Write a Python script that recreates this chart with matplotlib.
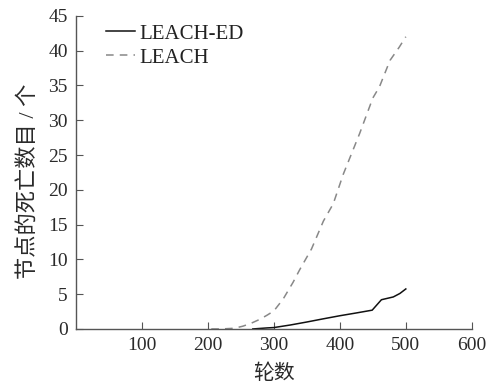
import matplotlib
matplotlib.use("Agg")
import matplotlib.pyplot as plt

plt.rcParams['font.family'] = ['Liberation Serif', 'Noto Sans CJK SC']

leach_ed_x = [268, 290, 300, 325, 350, 374, 400, 425, 449, 463, 481, 491, 500]
leach_ed_y = [0, 0.15, 0.2, 0.57, 1.0, 1.44, 1.9, 2.3, 2.7, 4.2, 4.6, 5.1, 5.75]

leach_x = [205, 220, 240, 253, 265, 279, 290, 300, 314, 329, 339, 357, 375, 390, 405, 430, 450, 460, 476, 490, 500]
leach_y = [0, 0, 0.1, 0.4, 0.8, 1.4, 2.0, 2.6, 4.3, 6.7, 8.5, 11.5, 15.5, 18, 22.2, 28.1, 33.2, 34.8, 38.6, 40.5, 42]

xticks = [100, 200, 300, 400, 500, 600]
yticks = [0, 5, 10, 15, 20, 25, 30, 35, 40, 45]

fig = plt.figure(figsize=(4.94, 3.87), dpi=100)
ax = fig.add_axes([0.154, 0.15, 0.801, 0.809])

axis_col = '#555555'
text_col = '#2a2a2a'

ax.plot(leach_ed_x, leach_ed_y, color='#111111', lw=1.1, label='LEACH-ED')
ax.plot(leach_x, leach_y, color='#888888', lw=1.1, ls=(0, (5, 4)), label='LEACH')

ax.set_xlim(0, 600)
ax.set_ylim(0, 45)
ax.set_xticks(xticks)
ax.set_yticks(yticks)
for s in ['top', 'right']:
    ax.spines[s].set_visible(False)
for s in ['left', 'bottom']:
    ax.spines[s].set_color(axis_col)
    ax.spines[s].set_linewidth(1.0)
ax.tick_params(direction='in', length=5, color=axis_col, labelsize=14, labelcolor=text_col, pad=6)

ax.set_xlabel('轮数', fontsize=15, color=text_col, labelpad=7)
ax.set_ylabel('节点的死亡数目 / 个', fontsize=16, color=text_col)
ax.yaxis.set_label_coords(-0.095, 0.47)

leg = ax.legend(loc='upper left', bbox_to_anchor=(0.055, 1.0), frameon=False,
                fontsize=15, handlelength=1.4, handletextpad=0.2, labelspacing=0.2,
                borderaxespad=0.0)
for t in leg.get_texts():
    t.set_color('#222222')

fig.savefig('out.png', dpi=100)
